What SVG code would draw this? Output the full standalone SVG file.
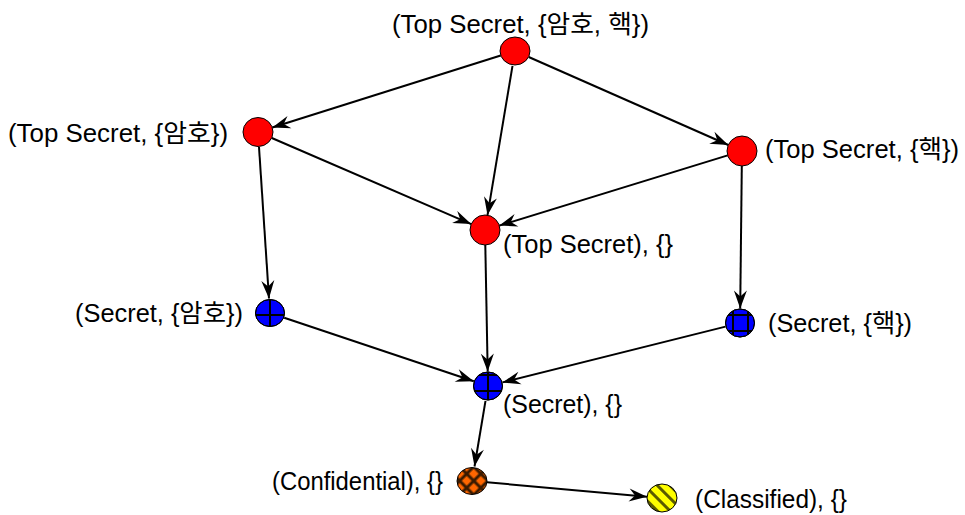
<svg xmlns="http://www.w3.org/2000/svg" width="965" height="515" viewBox="0 0 965 515">
<style>
.lbl{font-family:"Liberation Sans","Noto Sans CJK KR",sans-serif;font-size:25px;fill:#000}
.edge{stroke:#000;stroke-width:2;fill:none;marker-end:url(#arr)}
.nd{stroke:#000;stroke-width:1}
.grid{stroke:#000;stroke-width:2}
</style>
<defs>
<marker id="arr" markerUnits="userSpaceOnUse" markerWidth="20" markerHeight="14" viewBox="-18 -7 19 14" refX="0" refY="0" orient="auto">
<path d="M0,0 L-18,-6.5 L-12,0 L-18,6.5 Z" fill="#000"/>
</marker>
<pattern id="hatch" patternUnits="userSpaceOnUse" width="10" height="10" patternTransform="rotate(45)">
<rect width="10" height="10" fill="#ff6600"/>
<path d="M0,5 H10 M5,0 V10" stroke="#3a1a00" stroke-width="3"/>
</pattern>
<pattern id="stripe" patternUnits="userSpaceOnUse" width="9" height="9" patternTransform="rotate(45)">
<rect width="9" height="9" fill="#ffff00"/>
<path d="M0,4.5 H9" stroke="#5a5a00" stroke-width="3"/>
</pattern>
<clipPath id="c5"><ellipse cx="270" cy="313" rx="14.5" ry="13.5"/></clipPath>
<clipPath id="c6"><ellipse cx="740" cy="323" rx="14.5" ry="14"/></clipPath>
<clipPath id="c7"><ellipse cx="488" cy="386" rx="14.5" ry="14"/></clipPath>
</defs>
<g id="edges">
<line class="edge" x1="500.7" y1="55.5" x2="272.3" y2="127.5"/>
<line class="edge" x1="512.5" y1="65.8" x2="487.5" y2="215.2"/>
<line class="edge" x1="528.7" y1="57" x2="728.3" y2="145"/>
<line class="edge" x1="271.8" y1="138" x2="471.2" y2="224.1"/>
<line class="edge" x1="727.7" y1="155.4" x2="499.3" y2="225.6"/>
<line class="edge" x1="259" y1="147" x2="269" y2="298.5"/>
<line class="edge" x1="741.8" y1="166" x2="740.2" y2="308.5"/>
<line class="edge" x1="485.3" y1="245" x2="487.7" y2="371.5"/>
<line class="edge" x1="284.2" y1="317.8" x2="473.8" y2="381.2"/>
<line class="edge" x1="725.5" y1="326.6" x2="502.5" y2="382.4"/>
<line class="edge" x1="485.5" y1="400.8" x2="474.5" y2="466.5"/>
<line class="edge" x1="487" y1="482.3" x2="647" y2="496.7"/>
</g>
<g id="ts_all">
<ellipse class="nd" cx="515" cy="51" rx="15" ry="14" fill="#ff0000"/>
<text class="lbl" x="392" y="33" textLength="257" lengthAdjust="spacingAndGlyphs">(Top Secret, {암호, 핵})</text>
</g>
<g id="ts_amho">
<ellipse class="nd" cx="258" cy="132" rx="15" ry="14.5" fill="#ff0000"/>
<text class="lbl" x="8" y="142" textLength="220" lengthAdjust="spacingAndGlyphs">(Top Secret, {암호})</text>
</g>
<g id="ts_haek">
<ellipse class="nd" cx="742" cy="151" rx="15" ry="15" fill="#ff0000"/>
<text class="lbl" x="765" y="158" textLength="194" lengthAdjust="spacingAndGlyphs">(Top Secret, {핵})</text>
</g>
<g id="ts_empty">
<ellipse class="nd" cx="485" cy="230" rx="15" ry="15" fill="#ff0000"/>
<text class="lbl" x="503" y="253" textLength="170" lengthAdjust="spacingAndGlyphs">(Top Secret), {}</text>
</g>
<g id="s_amho">
<ellipse class="nd" cx="270" cy="313" rx="14.5" ry="13.5" fill="#0000ff"/>
<g clip-path="url(#c5)"><path class="grid" d="M270,298 V328 M255,315 H285"/></g>
<ellipse cx="270" cy="313" rx="14.5" ry="13.5" fill="none" stroke="#000"/>
<text class="lbl" x="75" y="322" textLength="168" lengthAdjust="spacingAndGlyphs">(Secret, {암호})</text>
</g>
<g id="s_haek">
<ellipse class="nd" cx="740" cy="323" rx="14.5" ry="14" fill="#0000ff"/>
<g clip-path="url(#c6)"><path class="grid" d="M733,308 V338 M748,308 V338 M725,315 H755 M725,331 H755"/></g>
<ellipse cx="740" cy="323" rx="14.5" ry="14" fill="none" stroke="#000"/>
<text class="lbl" x="768" y="332" textLength="144" lengthAdjust="spacingAndGlyphs">(Secret, {핵})</text>
</g>
<g id="s_empty">
<ellipse class="nd" cx="488" cy="386" rx="14.5" ry="14" fill="#0000ff"/>
<g clip-path="url(#c7)"><path class="grid" d="M488,371 V401 M473,375 H503 M473,391 H503"/></g>
<ellipse cx="488" cy="386" rx="14.5" ry="14" fill="none" stroke="#000"/>
<text class="lbl" x="503" y="413" textLength="119" lengthAdjust="spacingAndGlyphs">(Secret), {}</text>
</g>
<g id="confidential">
<ellipse class="nd" cx="472" cy="481" rx="15" ry="13.5" fill="url(#hatch)"/>
<text class="lbl" x="272" y="490" textLength="171" lengthAdjust="spacingAndGlyphs">(Confidential), {}</text>
</g>
<g id="classified">
<ellipse class="nd" cx="662" cy="498" rx="15" ry="14" fill="url(#stripe)"/>
<text class="lbl" x="695" y="508" textLength="152" lengthAdjust="spacingAndGlyphs">(Classified), {}</text>
</g>
</svg>
